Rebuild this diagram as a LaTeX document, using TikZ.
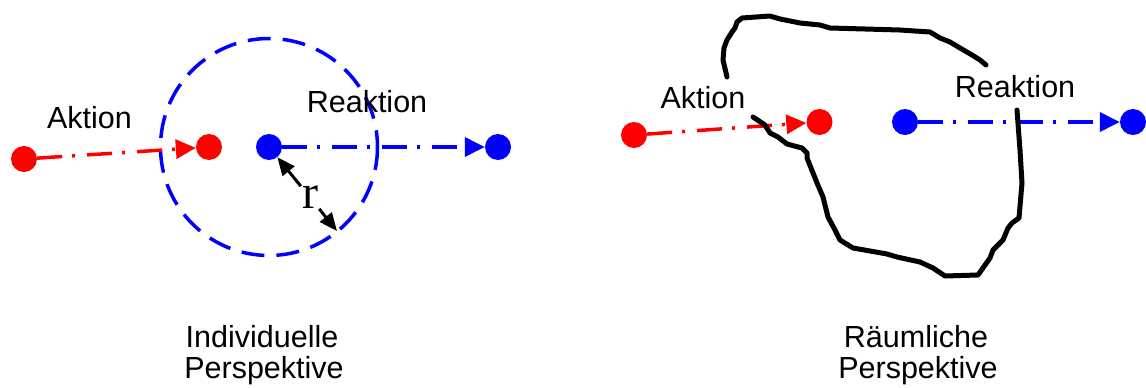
\documentclass[tikz,border=0pt]{standalone}
\usepackage{fontspec}
\newfontfamily\arialfont{Liberation Sans}
\newfontfamily\timesfont{Liberation Serif}
\usetikzlibrary{arrows.meta}
\tikzset{
  reddot/.style={circle,fill=red,inner sep=0pt,minimum size=26pt},
  bluedot/.style={circle,fill=blue,inner sep=0pt,minimum size=26pt},
  dashdotline/.style={line width=3.5pt,dash pattern=on 25pt off 10pt on 3pt off 12pt,
    -{Triangle[length=20pt,width=19pt]}},
  redarrow/.style={dashdotline,red},
  bluearrow/.style={dashdotline,blue},
  lbl/.style={font=\arialfont\fontsize{30.5}{31}\selectfont,inner sep=0pt,anchor=base},
  rarrow/.style={line width=3pt,-{Triangle[length=18pt,width=15pt]}},
  radcircle/.style={blue,line width=3.5pt,dash pattern=on 23pt off 12pt},
  blob/.style={line width=5pt,line join=round,line cap=round}
}
\begin{document}
\begin{tikzpicture}[x=1pt,y=-1pt]
\useasboundingbox (0,0) rectangle (1146,388);
% ---------- left: individual perspective ----------
\node[reddot]  (ra1) at (24,159) {};
\node[reddot]  (ra2) at (209,147) {};
\node[bluedot] (bl1) at (269,147) {};
\node[bluedot] (bl2) at (498,147) {};
\draw[radcircle] (bl1.center) circle (108.5);
\draw[redarrow]  (ra1) -- (ra2);
\draw[bluearrow] (bl1) -- (bl2);
\node[lbl] (aktL) at (89.5,128) {Aktion};
\node[lbl] (reaL) at (367,112) {Reaktion};
\node[font=\timesfont\fontsize{48}{48}\selectfont,inner sep=1pt] (rr) at (310,197.5) {r};
\coordinate (rim) at (337,231);
\draw[rarrow] (rr) -- (bl1);
\draw[rarrow] (rr) -- (rim);
\node[lbl] (ind1) at (262,347) {Individuelle};
\node[lbl] (ind2) at (264,378) {Perspektive};
% ---------- right: spatial perspective ----------
\node[reddot]  (rb1) at (634,135) {};
\node[reddot]  (rb2) at (819.5,122) {};
\node[bluedot] (bb1) at (905,122) {};
\node[bluedot] (bb2) at (1133,122) {};
\draw[redarrow]  (rb1) -- (rb2);
\draw[bluearrow] (bb1) -- (bb2);
\draw[blob] (727,77) -- (723,60) -- (724,48) -- (727,40) -- (732,32) -- (735,28)
  -- (737,22) -- (742,18) -- (770,16) -- (780,19) -- (800,23) -- (820,25)
  -- (830,28) -- (900,30) -- (930,32) -- (940,38) -- (950,42) -- (960,48)
  -- (972,55) -- (980,60) -- (986,65);
\draw[blob] (1017,110) -- (1020,150) -- (1022,183) -- (1019,218) -- (1012,223)
  -- (1008,228) -- (1003,240) -- (993,250) -- (990,258) -- (978,275)
  -- (945,276) -- (933,268) -- (920,262) -- (897,257) -- (887,254)
  -- (853,248) -- (840,240) -- (835,230) -- (828,217) -- (823,197)
  -- (817,183) -- (807,158) -- (807,153) -- (802,148) -- (787,144)
  -- (778,137) -- (770,133) -- (765,125) -- (753,117);
\node[lbl] (aktR) at (703,108) {Aktion};
\node[lbl] (reaR) at (1015,97) {Reaktion};
\node[lbl] (rau1) at (916,347) {Räumliche};
\node[lbl] (rau2) at (918,378) {Perspektive};
\end{tikzpicture}
\end{document}
